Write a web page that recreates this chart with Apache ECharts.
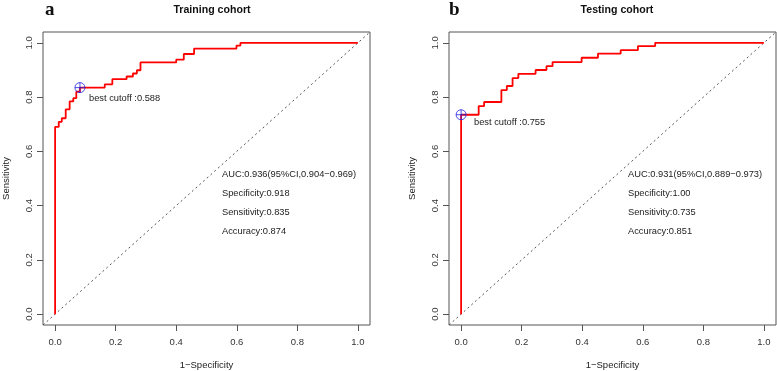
<!DOCTYPE html>
<html>
<head>
<meta charset="utf-8">
<script src="https://cdn.jsdelivr.net/npm/echarts@6/dist/echarts.min.js"></script>
<style>
  html, body { margin: 0; padding: 0; background: #fff; }
  #main { width: 777px; height: 371px; }
</style>
</head>
<body>
<div id="main"></div>
<script>
// ROC curve vertices (1-specificity, sensitivity)
var trainFpr = [0, 0, 0.012, 0.022, 0.035, 0.048, 0.06, 0.07, 0.082, 0.164, 0.189, 0.236, 0.257, 0.27, 0.282, 0.40, 0.425, 0.459, 0.599, 0.612, 1];
var trainTpr = [0, 0.69, 0.709, 0.722, 0.755, 0.784, 0.796, 0.82, 0.835, 0.847, 0.866, 0.876, 0.887, 0.899, 0.928, 0.938, 0.959, 0.979, 0.99, 1, 1];

var testFpr = [0, 0, 0.058, 0.076, 0.133, 0.151, 0.17, 0.189, 0.246, 0.282, 0.302, 0.398, 0.452, 0.527, 0.584, 0.641, 1];
var testTpr = [0, 0.735, 0.767, 0.782, 0.826, 0.841, 0.87, 0.886, 0.9, 0.914, 0.929, 0.945, 0.96, 0.973, 0.988, 1, 1];

var trainCutoff = [0.082, 0.835];
var testCutoff = [0, 0.735];

var tickValues = [0, 0.2, 0.4, 0.6, 0.8, 1.0];
var titles = ['Training cohort', 'Testing cohort'];
var panelTags = ['a', 'b'];
var trainStats = ['AUC:0.936(95%CI,0.904\u22120.969)', 'Specificity:0.918', 'Sensitivity:0.835', 'Accuracy:0.874'];
var testStats = ['AUC:0.931(95%CI,0.889\u22120.973)', 'Specificity:1.00', 'Sensitivity:0.735', 'Accuracy:0.851'];
var cutoffLabels = ['best cutoff :0.588', 'best cutoff :0.755'];

var FONT = '"Liberation Sans", Arial, sans-serif';

function zip(xs, ys) {
	var res = [];
	for (var i = 0; i < xs.length; i++) {
		res.push([xs[i], ys[i]]);
	}
	return res;
}

var lefts = [43, 449];

function makeX(i) {
	return {
		type: 'value', gridIndex: i, min: -0.04, max: 1.04,
		name: '1\u2212Specificity', nameLocation: 'middle', nameGap: 35,
		nameTextStyle: { fontFamily: FONT, fontSize: 9.5, color: '#222' },
		axisLine: { show: false, onZero: false },
		splitLine: { show: false },
		axisTick: { show: true, length: 6, customValues: tickValues, lineStyle: { color: '#555' } },
		axisLabel: {
			customValues: tickValues, margin: 12, fontFamily: FONT, fontSize: 9.5, color: '#333',
			formatter: function (v) { return v.toFixed(1); }
		}
	};
}

function makeY(i) {
	return {
		type: 'value', gridIndex: i, min: -0.04, max: 1.04,
		name: 'Sensitivity', nameLocation: 'middle', nameGap: 32,
		nameTextStyle: { fontFamily: FONT, fontSize: 9.5, color: '#222' },
		axisLine: { show: false, onZero: false },
		splitLine: { show: false },
		axisTick: { show: true, length: 6, customValues: tickValues, lineStyle: { color: '#555' } },
		axisLabel: {
			customValues: tickValues, margin: 9, rotate: 90, fontFamily: FONT, fontSize: 9.5, color: '#333',
			formatter: function (v) { return v.toFixed(1); }
		}
	};
}

var circleCross = 'path://M0,-10A10,10,0,1,1,0,10A10,10,0,1,1,0,-10ZM-10,0L10,0M0,-10L0,10';

function rocSeries(i, xs, ys, cut) {
	return [{
		type: 'line', xAxisIndex: i, yAxisIndex: i,
		data: [[-0.04, -0.04], [1.04, 1.04]],
		symbol: 'none', silent: true,
		lineStyle: { color: '#555', width: 1, type: [2, 3] }
	}, {
		type: 'line', xAxisIndex: i, yAxisIndex: i,
		data: zip(xs, ys), step: 'end',
		symbol: 'none',
		lineStyle: { color: '#f00', width: 1.8 }
	}, {
		type: 'scatter', xAxisIndex: i, yAxisIndex: i,
		data: [cut], symbol: circleCross, symbolSize: 10,
		itemStyle: { color: 'none', borderColor: '#2222dd', borderWidth: 1 },
		z: 5
	}];
}

function statsText(x0, lines) {
	var out = [];
	for (var k = 0; k < lines.length; k++) {
		out.push({
			type: 'text', left: x0, top: 170 + k * 19,
			style: { text: lines[k], font: '9.3px ' + FONT, fill: '#222' }
		});
	}
	return out;
}

var graphics = [];
graphics = graphics.concat(statsText(222, trainStats), statsText(628, testStats));
graphics.push({ type: 'text', left: 89, top: 94, style: { text: cutoffLabels[0], font: '9.3px ' + FONT, fill: '#222' } });
graphics.push({ type: 'text', left: 474, top: 118, style: { text: cutoffLabels[1], font: '9.3px ' + FONT, fill: '#222' } });
graphics.push({ type: 'text', left: 45, top: 1, style: { text: panelTags[0], font: 'bold 19px "Liberation Serif", serif', fill: '#111' } });
graphics.push({ type: 'text', left: 449, top: 1, style: { text: panelTags[1], font: 'bold 19px "Liberation Serif", serif', fill: '#111' } });

var gridBase = { top: 32, width: 327, height: 293, show: true, borderColor: '#555', borderWidth: 1, backgroundColor: 'transparent', outerBoundsMode: 'none', containLabel: false };

var option = {
	animation: false,
	backgroundColor: '#fff',
	title: [{
		text: titles[0], left: 207, top: 0, textAlign: 'center',
		textStyle: { fontFamily: FONT, fontSize: 10.6, fontWeight: 'bold', color: '#111' }
	}, {
		text: titles[1], left: 612, top: 0, textAlign: 'center',
		textStyle: { fontFamily: FONT, fontSize: 10.6, fontWeight: 'bold', color: '#111' }
	}],
	grid: [
		Object.assign({ left: lefts[0] }, gridBase),
		Object.assign({ left: lefts[1] }, gridBase)
	],
	xAxis: [makeX(0), makeX(1)],
	yAxis: [makeY(0), makeY(1)],
	series: rocSeries(0, trainFpr, trainTpr, trainCutoff).concat(rocSeries(1, testFpr, testTpr, testCutoff)),
	graphic: graphics
};

var myChart = echarts.init(document.getElementById('main'));
myChart.setOption(option);
</script>
</body>
</html>
